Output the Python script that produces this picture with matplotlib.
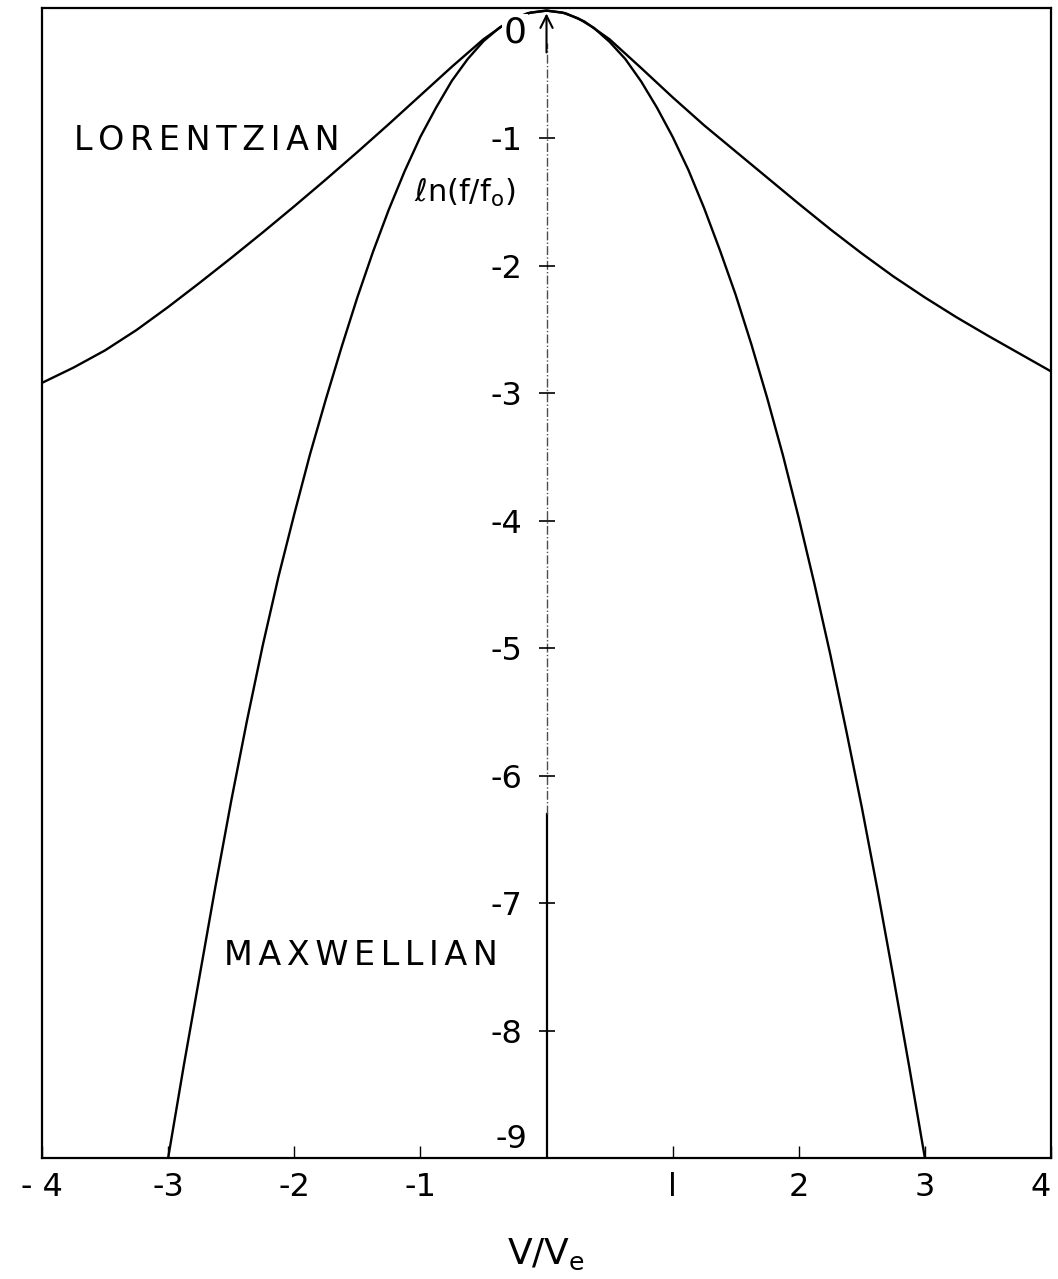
import matplotlib
matplotlib.use("Agg")
import matplotlib.pyplot as plt

plt.rcParams["font.family"] = ["DejaVu Sans"]
plt.rcParams["axes.unicode_minus"] = False
plt.rcParams["mathtext.fontset"] = "dejavusans"

# Maxwellian curve, ln(f/f0)
v_maxw = [-3.0, -2.875, -2.75, -2.625, -2.5, -2.375, -2.25, -2.125, -2.0, -1.875, -1.75, -1.625,
          -1.5, -1.375, -1.25, -1.125, -1.0, -0.875, -0.75, -0.625, -0.5, -0.375, -0.25, -0.125,
          0.0, 0.125, 0.25, 0.375, 0.5, 0.625, 0.75, 0.875, 1.0, 1.125, 1.25, 1.375,
          1.5, 1.625, 1.75, 1.875, 2.0, 2.125, 2.25, 2.375, 2.5, 2.625, 2.75, 2.875, 3.0]
ln_maxw = [-9.0, -8.27, -7.57, -6.87, -6.2, -5.57, -4.98, -4.44, -3.95, -3.48, -3.05, -2.64,
           -2.25, -1.89, -1.56, -1.26, -0.99, -0.76, -0.55, -0.38, -0.24, -0.135, -0.06, -0.015,
           0.0, -0.015, -0.06, -0.135, -0.245, -0.38, -0.555, -0.76, -0.99, -1.25, -1.55, -1.88,
           -2.23, -2.62, -3.04, -3.49, -3.98, -4.50, -5.05, -5.64, -6.25, -6.90, -7.58, -8.28, -9.0]

# Lorentzian curve
v_lor = [-4.0, -3.75, -3.5, -3.25, -3.0, -2.75, -2.5, -2.25, -2.0, -1.75, -1.5, -1.25, -1.0,
         -0.75, -0.5, -0.3, -0.15, 0.0, 0.15, 0.3, 0.5, 0.75, 1.0, 1.25, 1.5, 1.75, 2.0,
         2.25, 2.5, 2.75, 3.0, 3.25, 3.5, 3.75, 4.0]
ln_lor = [-2.92, -2.80, -2.665, -2.505, -2.325, -2.135, -1.94, -1.74, -1.535, -1.325, -1.11, -0.89, -0.665,
          -0.44, -0.225, -0.085, -0.02, 0.0, -0.02, -0.085, -0.225, -0.45, -0.68, -0.90, -1.105, -1.31, -1.515,
          -1.715, -1.905, -2.085, -2.25, -2.405, -2.55, -2.69, -2.83]

x_ticks = [-4, -3, -2, -1, 1, 2, 3, 4]
x_labels = ["- 4", "-3", "-2", "-1", "l", "2", "3", "4"]
y_ticks = [-1, -2, -3, -4, -5, -6, -7, -8]
y_labels = ["-1", "-2", "-3", "-4", "-5", "-6", "-7", "-8"]

sp = "\u2006"  # letter spacing for the stencil-like labels


def spaced(s):
    return sp.join(s)


fig = plt.figure(figsize=(10.58, 12.79), dpi=100)
pos = [0.0397, 0.0946, 0.9537, 0.8991]
ax = fig.add_axes(pos)
ax.plot(v_maxw, ln_maxw, color="k", lw=1.7, zorder=2)
ax.plot(v_lor, ln_lor, color="k", lw=1.7, zorder=2)
ax.set_xlim(-4, 4)
ax.set_ylim(-9, 0.02)
for s in ax.spines.values():
    s.set_linewidth(1.6)
ax.set_xticks(x_ticks)
ax.set_xticklabels(x_labels, fontsize=23)
ax.tick_params(axis="x", direction="in", length=9, width=1, pad=10)
ax.get_xticklabels()[-1].set_horizontalalignment("right")
ax.set_yticks([])
ax.set_xlabel("V/V$_\\mathrm{e}$", fontsize=26, labelpad=24)

# central ln(f/f0) axis
ax.axvline(0, ymin=0, ymax=(9 - 6.3) / 9.02, color="k", lw=1.6)
ax.axvline(0, ymin=(9 - 6.3) / 9.02, ymax=0.97, color="0.3", lw=1.0, ls="-.")
ax.annotate("", xy=(0, 0.0), xytext=(0, -0.35),
            arrowprops=dict(arrowstyle="->", color="k", lw=1.5, mutation_scale=22))

ax2 = fig.add_axes(pos, facecolor="none")
ax2.set_xlim(-4, 4)
ax2.set_ylim(-9, 0.02)
for k in ["top", "right", "bottom"]:
    ax2.spines[k].set_visible(False)
ax2.spines["left"].set_position(("data", 0))
ax2.spines["left"].set_visible(False)
ax2.set_xticks([])
ax2.set_yticks(y_ticks)
ax2.set_yticklabels(y_labels, fontsize=23)
ax2.tick_params(axis="y", direction="inout", length=11, width=1.2, pad=12)

ax.annotate("-9", xy=(0, -9), xytext=(-14, 2), textcoords="offset points",
            ha="right", va="bottom", fontsize=23)
ax.text(-0.25, -0.17, "0", fontsize=26, ha="center", va="center", zorder=3,
        bbox=dict(facecolor="white", edgecolor="none", pad=1))
ax.text(-1.05, -1.43, "$\\ell$n(f/f$_\\mathrm{o}$)", fontsize=22, ha="left", va="center")
ax.text(-3.75, -1.02, spaced("LORENTZIAN"), fontsize=24, ha="left", va="center")
ax.text(-2.56, -7.41, spaced("MAXWELLIAN"), fontsize=24, ha="left", va="center")

fig.savefig("out.png", dpi=100)
